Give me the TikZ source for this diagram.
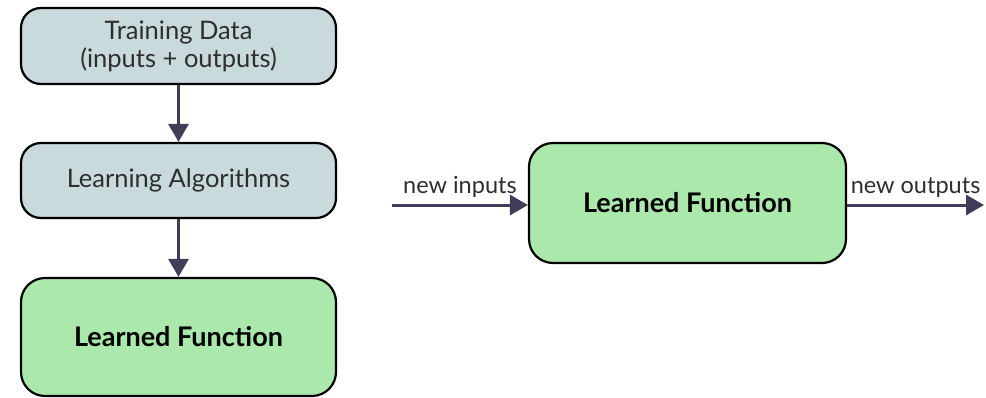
\documentclass[tikz,border=0pt]{standalone}
\usepackage{fontspec}
\setmainfont{Lato}
\usetikzlibrary{arrows.meta}
\definecolor{boxgrey}{HTML}{C8DADB}
\definecolor{boxgreen}{HTML}{AAE8AB}
\definecolor{arrowc}{HTML}{3F3D58}
\definecolor{txtgrey}{HTML}{2E2E2E}
\tikzset{
  x=1pt, y=-1pt,
  greybox/.style={draw=black, line width=2.2pt, rounded corners=20pt, fill=boxgrey, text=txtgrey, font=\fontsize{25.5}{28}\selectfont, align=center, inner sep=0pt},
  greenbox/.style={draw=black, line width=2.2pt, rounded corners=24pt, fill=boxgreen, text=black, font=\bfseries\fontsize{27}{32}\selectfont, align=center, inner sep=0pt},
  flow/.style={draw=arrowc, line width=3pt, -{Triangle[length=18pt,width=20pt]}},
  lbl/.style={font=\fontsize{23.5}{27}\selectfont, text=txtgrey}
}
\begin{document}
\begin{tikzpicture}
\useasboundingbox (0,0) rectangle (986,397);
\node[greybox, minimum width=315pt, minimum height=76pt] (td) at (178.5,46) {Training Data\\(inputs + outputs)};
\node[greybox, minimum width=315pt, minimum height=75pt] (la) at (178.5,180.5) {Learning Algorithms};
\node[greenbox, minimum width=315pt, minimum height=118pt] (lf1) at (178.5,337) {Learned Function};
\node[greenbox, minimum width=317pt, minimum height=120pt] (lf2) at (687.5,203) {Learned Function};
\coordinate (in) at (392,205);
\coordinate (out) at (984,205);
\draw[flow] (td) -- (la);
\draw[flow] (la) -- (lf1);
\draw[flow] (in) -- (lf2.west |- in) node[lbl, midway, above=3pt] (lin) {new inputs};
\draw[flow] (lf2.east |- out) -- (out) node[lbl, midway, above=3pt] (lout) {new outputs};
\end{tikzpicture}
\end{document}
